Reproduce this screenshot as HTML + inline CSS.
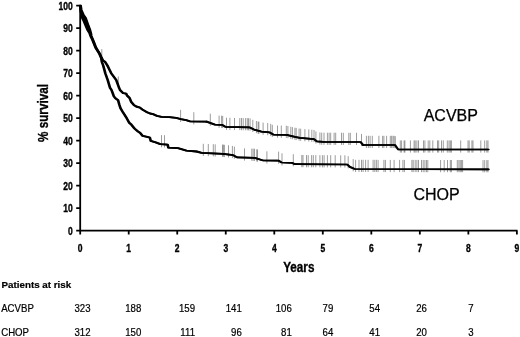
<!DOCTYPE html>
<html><head><meta charset="utf-8"><title>Survival</title>
<style>html,body{margin:0;padding:0;background:#fff}svg{display:block}</style></head>
<body>
<svg width="520" height="337" viewBox="0 0 520 337">
<rect width="520" height="337" fill="#fff"/>
<path d="M80.2,5.0V230.6H517.5M76.2,230.60H80.2M76.2,208.10H80.2M76.2,185.60H80.2M76.2,163.10H80.2M76.2,140.60H80.2M76.2,118.10H80.2M76.2,95.60H80.2M76.2,73.10H80.2M76.2,50.60H80.2M76.2,28.10H80.2M76.2,5.60H80.2M80.20,230.6V234.6M128.72,230.6V234.6M177.24,230.6V234.6M225.76,230.6V234.6M274.28,230.6V234.6M322.80,230.6V234.6M371.32,230.6V234.6M419.84,230.6V234.6M468.36,230.6V234.6M516.88,230.6V234.6" fill="none" stroke="#000" stroke-width="1.8"/>
<path d="M101.8,49.1V61.3M118.3,76.5V88.7M180.6,109.8V122.0M193.8,112.2V124.4M210.3,113.7V125.9M219.1,115.6V127.8M221.6,115.7V127.9M222.7,115.9V128.1M226.5,117.7V129.9M229.9,117.8V130.0M234.5,117.9V130.1M239.8,118.0V130.2M241.5,118.0V130.2M243.2,118.1V130.3M245.6,118.1V130.3M247.3,118.1V130.3M248.5,118.2V130.4M250.1,118.4V130.6M252.8,119.8V132.0M256.4,121.0V133.2M258.1,121.5V133.7M258.9,121.7V133.9M263.1,122.6V134.8M267.7,123.0V135.2M270.7,123.8V136.0M272.3,124.8V137.0M277.5,125.5V137.7M281.3,125.6V137.8M286.3,125.7V137.9M287.9,126.0V138.2M290.8,126.7V138.9M292.4,127.1V139.3M294.9,127.7V139.9M296.2,127.9V140.1M299.1,128.5V140.7M300.7,128.7V140.9M304.9,129.1V141.3M308.8,129.4V141.6M311.8,129.7V141.9M314.0,129.9V142.1M315.9,131.4V143.6M319.9,132.4V144.6M321.7,132.6V144.8M324.0,132.7V144.9M327.4,132.7V144.9M329.1,132.7V144.9M330.7,132.7V144.9M334.1,132.7V144.9M335.7,132.7V144.9M341.5,132.7V144.9M343.3,132.8V145.0M348.8,132.8V145.0M350.3,132.8V145.0M356.5,132.8V145.0M361.5,133.9V146.1M366.4,135.8V148.0M368.4,135.8V148.0M370.1,135.8V148.0M372.3,135.8V148.0M378.9,135.8V148.0M382.6,135.8V148.0M383.9,135.8V148.0M386.6,135.8V148.0M390.3,135.8V148.0M391.6,135.8V148.0M393.0,135.8V148.0M394.1,135.8V148.0M395.3,136.2V148.4M400.3,140.4V152.6M401.6,140.4V152.6M404.1,140.4V152.6M404.9,140.4V152.6M410.4,140.4V152.6M414.1,140.4V152.6M415.2,140.4V152.6M416.9,140.4V152.6M418.5,140.4V152.6M423.5,140.4V152.6M424.9,140.4V152.6M428.2,140.4V152.6M429.8,140.4V152.6M432.8,140.4V152.6M437.5,140.4V152.6M438.7,140.4V152.6M441.5,140.4V152.6M443.3,140.4V152.6M447.3,140.4V152.6M449.0,140.4V152.6M450.3,140.4V152.6M451.4,140.4V152.6M460.7,140.4V152.6M468.0,140.4V152.6M469.2,140.4V152.6M471.9,140.4V152.6M473.0,140.4V152.6M480.8,140.4V152.6M484.7,140.4V152.6M486.8,140.4V152.6M488.0,140.4V152.6" fill="none" stroke="#000" stroke-width="0.6" opacity="0.65"/>
<path d="M161.5,135.1V147.3M164.5,135.2V147.4M203.3,143.8V156.0M208.3,144.0V156.2M213.3,144.2V156.4M215.2,144.3V156.5M222.5,144.6V156.8M223.4,144.6V156.8M224.4,144.8V157.0M228.5,145.3V157.5M232.4,145.9V158.1M234.4,146.6V158.8M244.5,148.4V160.6M251.8,148.6V160.8M253.2,148.7V160.9M254.5,148.7V160.9M256.8,149.3V161.5M257.4,149.5V161.7M266.9,151.3V163.5M278.6,151.6V163.8M282.0,153.3V165.5M293.3,154.2V166.4M301.8,155.0V167.2M303.0,155.0V167.2M306.5,155.1V167.3M308.2,155.1V167.3M311.6,155.1V167.3M313.3,155.1V167.3M315.8,155.1V167.3M319.9,155.1V167.3M322.4,155.2V167.4M324.1,155.2V167.4M327.4,155.2V167.4M330.7,155.2V167.4M335.2,155.2V167.4M340.7,155.3V167.5M344.9,155.3V167.5M348.2,156.2V168.4M353.2,159.1V171.3M355.6,159.8V172.0M359.0,159.8V172.0M361.5,159.8V172.0M363.1,159.8V172.0M365.6,159.8V172.0M368.1,159.8V172.0M373.1,159.8V172.0M374.8,159.8V172.0M376.4,159.8V172.0M378.1,159.9V172.1M383.9,159.9V172.1M385.4,159.9V172.1M390.3,159.9V172.1M394.1,159.9V172.1M399.6,159.9V172.1M402.9,159.9V172.1M404.4,159.9V172.1M411.9,159.9V172.1M413.2,159.9V172.1M415.2,159.9V172.1M416.9,159.9V172.1M418.5,159.9V172.1M421.5,159.9V172.1M423.2,160.0V172.2M424.9,160.0V172.2M426.5,160.0V172.2M427.8,160.0V172.2M440.6,160.0V172.2M444.2,160.0V172.2M447.5,160.0V172.2M450.3,160.0V172.2M451.4,160.0V172.2M457.3,160.0V172.2M458.9,160.0V172.2M460.2,160.0V172.2M461.4,160.0V172.2M462.6,160.0V172.2M483.0,160.1V172.3M484.7,160.1V172.3M486.8,160.1V172.3M488.0,160.1V172.3" fill="none" stroke="#000" stroke-width="0.6" opacity="0.65"/>
<path d="M80.6,5.6 L81.3,10.0 L83.6,15.4 L85.6,18.0 L86.3,20.0 L88.3,25.7 L89.8,29.5 L90.9,33.4 L91.3,36.0 L90.6,36.0 L89.7,33.4 L87.4,29.5 L85.8,25.7 L83.4,20.0 L82.4,18.0 L81.6,15.4 L80.6,10.0 L80.4,5.6Z" fill="#000" stroke="none"/>
<path transform="translate(-0.4,0)" d="M80.6,5.6 L81.3,10.0 L83.6,15.4 L85.6,18.0 L86.3,20.0 L88.3,25.7 L89.8,29.5 L90.9,33.4 L91.3,36.0 L92.9,39.8 L94.4,43.7 L95.9,47.5 L98.3,51.4 L99.9,54.0 L101.5,57.8 L103.0,60.5 L105.0,61.7 L107.4,65.5 L109.3,69.4 L111.2,73.2 L116.2,80.0 L118.5,86.2 L120.0,90.0 L123.1,93.1 L126.2,93.6 L127.0,95.5 L129.6,98.0 L131.2,101.8 L133.8,104.9 L136.2,106.5 L140.0,107.6 L142.3,109.5 L146.2,111.8 L150.0,113.5 L153.1,114.2 L156.9,115.8 L161.5,116.8 L169.2,117.2 L176.2,117.9 L180.8,119.1 L186.2,120.2 L190.0,121.3 L206.6,121.6" fill="none" stroke="#000" stroke-width="1.85" stroke-linejoin="round" stroke-linecap="round"/>
<path transform="translate(0.4,0)" d="M80.6,5.6 L81.3,10.0 L83.6,15.4 L85.6,18.0 L86.3,20.0 L88.3,25.7 L89.8,29.5 L90.9,33.4 L91.3,36.0 L92.9,39.8 L94.4,43.7 L95.9,47.5 L98.3,51.4 L99.9,54.0 L101.5,57.8 L103.0,60.5 L105.0,61.7 L107.4,65.5 L109.3,69.4 L111.2,73.2 L116.2,80.0 L118.5,86.2 L120.0,90.0 L123.1,93.1 L126.2,93.6 L127.0,95.5 L129.6,98.0 L131.2,101.8 L133.8,104.9 L136.2,106.5 L140.0,107.6 L142.3,109.5 L146.2,111.8 L150.0,113.5 L153.1,114.2 L156.9,115.8 L161.5,116.8 L169.2,117.2 L176.2,117.9 L180.8,119.1 L186.2,120.2 L190.0,121.3 L206.6,121.6" fill="none" stroke="#000" stroke-width="1.85" stroke-linejoin="round" stroke-linecap="round"/>
<path transform="translate(-0.4,0)" d="M206.6,121.6 L214.9,124.6 L222.4,124.9 L225.7,126.9 L249.8,127.4 L254.0,129.6 L261.4,131.6 L269.7,132.4 L273.3,134.6 L286.6,134.9 L294.9,136.9 L299.9,137.8 L314.0,139.1 L316.8,141.3 L323.2,141.9 L360.6,142.0 L363.1,145.0" fill="none" stroke="#000" stroke-width="1.7" stroke-linejoin="round" stroke-linecap="round"/>
<path transform="translate(0.4,0)" d="M206.6,121.6 L214.9,124.6 L222.4,124.9 L225.7,126.9 L249.8,127.4 L254.0,129.6 L261.4,131.6 L269.7,132.4 L273.3,134.6 L286.6,134.9 L294.9,136.9 L299.9,137.8 L314.0,139.1 L316.8,141.3 L323.2,141.9 L360.6,142.0 L363.1,145.0" fill="none" stroke="#000" stroke-width="1.7" stroke-linejoin="round" stroke-linecap="round"/>
<path transform="translate(-0.4,0)" d="M363.1,145.0 L395.0,145.0 L398.3,149.6 L488.5,149.6" fill="none" stroke="#000" stroke-width="1.5" stroke-linejoin="round" stroke-linecap="round"/>
<path transform="translate(0.4,0)" d="M363.1,145.0 L395.0,145.0 L398.3,149.6 L488.5,149.6" fill="none" stroke="#000" stroke-width="1.5" stroke-linejoin="round" stroke-linecap="round"/>
<path transform="translate(-0.4,0)" d="M80.4,5.6 L80.6,10.0 L81.6,15.4 L82.4,18.0 L83.4,20.0 L85.8,25.7 L87.4,29.5 L89.7,33.4 L90.6,36.0 L92.5,39.8 L94.0,43.7 L95.5,47.5 L98.0,51.4 L99.5,54.0 L101.2,57.8 L101.8,61.7 L103.2,65.5 L104.3,69.4 L105.3,73.2 L107.7,80.0 L110.0,87.7 L111.5,90.0 L112.7,93.1 L113.8,96.2 L115.4,98.3 L118.1,100.3 L119.2,104.2 L120.4,108.0 L123.1,112.6 L124.4,114.5 L126.9,118.6 L129.2,122.8 L131.5,124.8 L134.6,128.6 L138.0,131.5 L140.3,133.1 L142.6,135.8 L147.2,136.9 L149.9,137.7 L150.7,140.8 L155.7,142.3 L160.3,144.2 L167.6,144.6 L168.4,147.7 L178.0,148.1 L186.4,150.7 L196.6,151.5 L201.6,152.9 L223.2,153.8" fill="none" stroke="#000" stroke-width="1.85" stroke-linejoin="round" stroke-linecap="round"/>
<path transform="translate(0.4,0)" d="M80.4,5.6 L80.6,10.0 L81.6,15.4 L82.4,18.0 L83.4,20.0 L85.8,25.7 L87.4,29.5 L89.7,33.4 L90.6,36.0 L92.5,39.8 L94.0,43.7 L95.5,47.5 L98.0,51.4 L99.5,54.0 L101.2,57.8 L101.8,61.7 L103.2,65.5 L104.3,69.4 L105.3,73.2 L107.7,80.0 L110.0,87.7 L111.5,90.0 L112.7,93.1 L113.8,96.2 L115.4,98.3 L118.1,100.3 L119.2,104.2 L120.4,108.0 L123.1,112.6 L124.4,114.5 L126.9,118.6 L129.2,122.8 L131.5,124.8 L134.6,128.6 L138.0,131.5 L140.3,133.1 L142.6,135.8 L147.2,136.9 L149.9,137.7 L150.7,140.8 L155.7,142.3 L160.3,144.2 L167.6,144.6 L168.4,147.7 L178.0,148.1 L186.4,150.7 L196.6,151.5 L201.6,152.9 L223.2,153.8" fill="none" stroke="#000" stroke-width="1.85" stroke-linejoin="round" stroke-linecap="round"/>
<path transform="translate(-0.4,0)" d="M223.2,153.8 L233.2,155.2 L237.3,157.4 L254.8,157.9 L263.1,160.5 L278.3,160.6 L281.6,162.5 L292.4,162.9 L294.9,164.2 L347.3,164.5 L349.8,166.9 L354.8,169.0 L488.5,169.3" fill="none" stroke="#000" stroke-width="1.7" stroke-linejoin="round" stroke-linecap="round"/>
<path transform="translate(0.4,0)" d="M223.2,153.8 L233.2,155.2 L237.3,157.4 L254.8,157.9 L263.1,160.5 L278.3,160.6 L281.6,162.5 L292.4,162.9 L294.9,164.2 L347.3,164.5 L349.8,166.9 L354.8,169.0 L488.5,169.3" fill="none" stroke="#000" stroke-width="1.7" stroke-linejoin="round" stroke-linecap="round"/>
<path transform="translate(-0.4,0)" d="M488.5,169.3" fill="none" stroke="#000" stroke-width="1.5" stroke-linejoin="round" stroke-linecap="round"/>
<path transform="translate(0.4,0)" d="M488.5,169.3" fill="none" stroke="#000" stroke-width="1.5" stroke-linejoin="round" stroke-linecap="round"/>
<g font-family="'Liberation Sans',sans-serif" font-weight="bold" font-size="10.4" fill="#000" stroke="#000" stroke-width="0.35">
<text transform="translate(72.8,234.7) scale(0.82,1)" text-anchor="end">0</text>
<text transform="translate(72.8,212.2) scale(0.82,1)" text-anchor="end">10</text>
<text transform="translate(72.8,189.7) scale(0.82,1)" text-anchor="end">20</text>
<text transform="translate(72.8,167.2) scale(0.82,1)" text-anchor="end">30</text>
<text transform="translate(72.8,144.7) scale(0.82,1)" text-anchor="end">40</text>
<text transform="translate(72.8,122.2) scale(0.82,1)" text-anchor="end">50</text>
<text transform="translate(72.8,99.7) scale(0.82,1)" text-anchor="end">60</text>
<text transform="translate(72.8,77.2) scale(0.82,1)" text-anchor="end">70</text>
<text transform="translate(72.8,54.7) scale(0.82,1)" text-anchor="end">80</text>
<text transform="translate(72.8,32.2) scale(0.82,1)" text-anchor="end">90</text>
<text transform="translate(72.8,9.7) scale(0.82,1)" text-anchor="end">100</text>
<text transform="translate(80.2,252) scale(0.82,1)" text-anchor="middle">0</text>
<text transform="translate(128.7,252) scale(0.82,1)" text-anchor="middle">1</text>
<text transform="translate(177.2,252) scale(0.82,1)" text-anchor="middle">2</text>
<text transform="translate(225.8,252) scale(0.82,1)" text-anchor="middle">3</text>
<text transform="translate(274.3,252) scale(0.82,1)" text-anchor="middle">4</text>
<text transform="translate(322.8,252) scale(0.82,1)" text-anchor="middle">5</text>
<text transform="translate(371.3,252) scale(0.82,1)" text-anchor="middle">6</text>
<text transform="translate(419.8,252) scale(0.82,1)" text-anchor="middle">7</text>
<text transform="translate(468.4,252) scale(0.82,1)" text-anchor="middle">8</text>
<text transform="translate(516.9,252) scale(0.82,1)" text-anchor="middle">9</text>
</g>
<g font-family="'Liberation Sans',sans-serif" font-weight="bold" font-size="14.3" fill="#000" stroke="#000" stroke-width="0.35">
<text transform="translate(47.5,113) rotate(-90) scale(0.82,1)" text-anchor="middle">% survival</text>
<text transform="translate(298.8,271.6) scale(0.82,1)" text-anchor="middle">Years</text>
</g>
<g font-family="'Liberation Sans',sans-serif" font-size="16" fill="#000" stroke="#000" stroke-width="0.25">
<text x="423.7" y="120.6">ACVBP</text>
<text x="413.5" y="199.8">CHOP</text>
</g>
<g font-family="'Liberation Sans',sans-serif" font-size="10.1" fill="#000" stroke="#000" stroke-width="0.2">
<text transform="translate(1.6,288) scale(1.01,1)" font-weight="bold" font-size="9.7">Patients at risk</text>
<text transform="translate(1.2,311.8) scale(0.955,1)">ACVBP</text>
<text transform="translate(1.2,335.8) scale(0.955,1)">CHOP</text>
<text transform="translate(90.5,311.9) scale(0.955,1)" text-anchor="end">323</text>
<text transform="translate(90.5,335.8) scale(0.955,1)" text-anchor="end">312</text>
<text transform="translate(141.25,311.9) scale(0.955,1)" text-anchor="end">188</text>
<text transform="translate(141.25,335.8) scale(0.955,1)" text-anchor="end">150</text>
<text transform="translate(195,311.9) scale(0.955,1)" text-anchor="end">159</text>
<text transform="translate(195,335.8) scale(0.955,1)" text-anchor="end">111</text>
<text transform="translate(241.75,311.9) scale(0.955,1)" text-anchor="end">141</text>
<text transform="translate(241.75,335.8) scale(0.955,1)" text-anchor="end">96</text>
<text transform="translate(291.75,311.9) scale(0.955,1)" text-anchor="end">106</text>
<text transform="translate(291.75,335.8) scale(0.955,1)" text-anchor="end">81</text>
<text transform="translate(333.3,311.9) scale(0.955,1)" text-anchor="end">79</text>
<text transform="translate(333.3,335.8) scale(0.955,1)" text-anchor="end">64</text>
<text transform="translate(380,311.9) scale(0.955,1)" text-anchor="end">54</text>
<text transform="translate(380,335.8) scale(0.955,1)" text-anchor="end">41</text>
<text transform="translate(426.9,311.9) scale(0.955,1)" text-anchor="end">26</text>
<text transform="translate(426.9,335.8) scale(0.955,1)" text-anchor="end">20</text>
<text transform="translate(473.5,311.9) scale(0.955,1)" text-anchor="end">7</text>
<text transform="translate(473.5,335.8) scale(0.955,1)" text-anchor="end">3</text>
</g>
</svg>
</body></html>
